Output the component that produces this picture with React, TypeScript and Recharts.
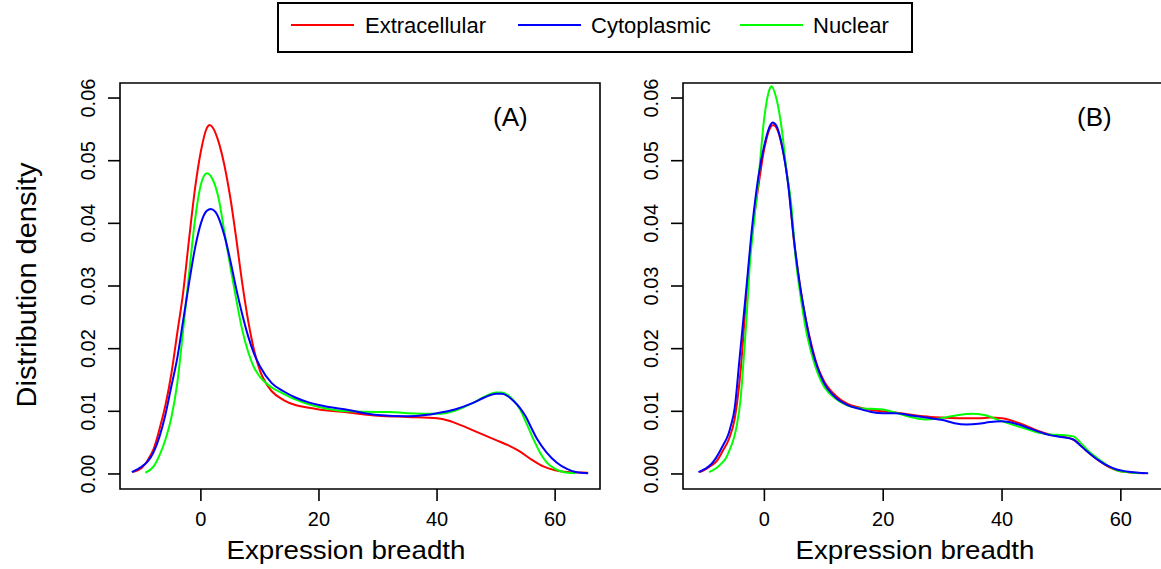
import { LineChart, Line, XAxis, YAxis, ReferenceArea } from "recharts";

const FONT = '"Liberation Sans", Arial, Helvetica, sans-serif';

// x ticks / y ticks shared by both panels
const X_TICKS = [0, 20, 40, 60];
const Y_TICKS = [0, 0.01, 0.02, 0.03, 0.04, 0.05, 0.06];
const X_DOMAIN: [number, number] = [-13.7, 67.6];
const Y_DOMAIN: [number, number] = [-0.0024, 0.0624];

const SERIES = [
  { key: "extracellular", name: "Extracellular", color: "#FF0000" },
  { key: "nuclear", name: "Nuclear", color: "#00FF00" },
  { key: "cytoplasmic", name: "Cytoplasmic", color: "#0000FF" },
];
const LEGEND_ORDER = ["extracellular", "cytoplasmic", "nuclear"];

// panel (A): [expression breadth, density]
const extracellularA: [number, number][] = [
  [-11.5, 0.0003], [-10, 0.001], [-9, 0.0022], [-8, 0.004], [-7, 0.0072],
  [-6, 0.011], [-5, 0.016], [-4, 0.0225], [-3, 0.029], [-2, 0.0375],
  [-1, 0.0455], [0, 0.0515], [1, 0.0552], [1.5, 0.0557], [2, 0.0553],
  [3, 0.053], [4, 0.0492], [5, 0.044], [6, 0.0375], [7, 0.0305],
  [8, 0.0245], [9, 0.0198], [10, 0.0165], [11, 0.0145], [12, 0.0132],
  [14, 0.0118], [16, 0.011], [18, 0.0106], [20, 0.0103], [25, 0.0098],
  [30, 0.0093], [35, 0.0091], [40, 0.0089], [42, 0.0085], [44, 0.0078],
  [46, 0.007], [48, 0.0062], [50, 0.0054], [52, 0.0046], [54, 0.0036],
  [56, 0.0023], [58, 0.0012], [60, 0.0006], [62, 0.0003], [65.5, 0.0002],
];
const cytoplasmicA: [number, number][] = [
  [-11.7, 0.0003], [-10, 0.0012], [-9, 0.002], [-8, 0.0035], [-7, 0.006],
  [-6, 0.0095], [-5, 0.014], [-4, 0.0185], [-3, 0.0245], [-2, 0.0305],
  [-1, 0.036], [0, 0.04], [1, 0.042], [1.7, 0.0423], [2.5, 0.0418],
  [4, 0.038], [5, 0.034], [6, 0.0295], [7, 0.0255], [8, 0.022],
  [9, 0.0192], [10, 0.0172], [12, 0.0145], [14, 0.0132], [16, 0.0122],
  [18, 0.0115], [20, 0.011], [25, 0.0102], [30, 0.0094], [35, 0.0092],
  [38, 0.0094], [40, 0.0097], [43, 0.0103], [46, 0.0113], [48, 0.0122],
  [50, 0.0128], [51, 0.0128], [52, 0.0124], [53, 0.0116], [54, 0.0106],
  [55, 0.0092], [56, 0.0073], [57, 0.0055], [58.5, 0.0035], [60.3, 0.0018],
  [62, 0.0008], [63.5, 0.0003], [65.6, 0.0001],
];
const nuclearA: [number, number][] = [
  [-9.4, 0.0002], [-8, 0.0012], [-7, 0.003], [-6, 0.0055], [-5, 0.009],
  [-4, 0.0145], [-3, 0.023], [-2, 0.032], [-1, 0.0405], [0, 0.0462],
  [1, 0.048], [2, 0.047], [3, 0.044], [4, 0.0385], [5, 0.033],
  [6, 0.0278], [7, 0.023], [8, 0.0195], [9, 0.017], [10, 0.0155],
  [12, 0.0138], [14, 0.0128], [16, 0.0119], [18, 0.0112], [20, 0.0107],
  [25, 0.01], [30, 0.0099], [32, 0.0099], [35, 0.0097], [40, 0.0096],
  [43, 0.0101], [46, 0.0113], [48, 0.0123], [50, 0.013], [51, 0.013],
  [52, 0.0126], [53, 0.0117], [54, 0.0104], [55, 0.0084], [56.3, 0.0056],
  [57.5, 0.0033], [58.6, 0.0018], [60, 0.0008], [61.4, 0.0003], [63.4, 0.0001],
];

// panel (B)
const extracellularB: [number, number][] = [
  [-10.9, 0.0003], [-10, 0.0007], [-9, 0.0013], [-8, 0.0021], [-7, 0.0037],
  [-6, 0.0055], [-5, 0.0088], [-4, 0.0165], [-3, 0.029], [-2, 0.039],
  [-1, 0.046], [0, 0.052], [1, 0.0553], [1.5, 0.0557], [2, 0.0553],
  [3, 0.0522], [4, 0.0465], [5, 0.037], [6, 0.03], [7, 0.0245],
  [8, 0.0203], [9, 0.017], [10, 0.0149], [12, 0.0125], [14, 0.0112],
  [16, 0.0106], [18, 0.0102], [20, 0.01], [22, 0.0098], [25, 0.0094],
  [28, 0.0091], [30, 0.009], [33, 0.0089], [36, 0.0089], [38, 0.009],
  [40, 0.0089], [42, 0.0084], [44, 0.0077], [46, 0.0069], [48, 0.0063],
  [50, 0.006], [52, 0.0055], [53, 0.0048], [54.2, 0.0037], [56.2, 0.0022],
  [58, 0.0011], [59.3, 0.0006], [61, 0.0003], [64, 0.0001],
];
const cytoplasmicB: [number, number][] = [
  [-11.1, 0.0003], [-10, 0.0008], [-9, 0.0015], [-8.4, 0.0022], [-7, 0.0045],
  [-6, 0.0065], [-5.7, 0.0075], [-5, 0.0105], [-4.2, 0.0182], [-3, 0.03],
  [-2, 0.04], [-1, 0.0475], [0, 0.0525], [1, 0.0557], [1.4, 0.0561],
  [2, 0.0556], [3, 0.0522], [4, 0.0462], [5, 0.0372], [6, 0.03],
  [7, 0.0245], [8, 0.02], [9, 0.0168], [10, 0.0146], [12, 0.0122],
  [14, 0.011], [16, 0.0104], [18, 0.0099], [20, 0.0097], [22, 0.0097],
  [25, 0.0093], [28, 0.0089], [30, 0.0086], [32, 0.0081], [34, 0.0079],
  [36, 0.008], [38, 0.0083], [40, 0.0084], [42, 0.0081], [44, 0.0075],
  [46, 0.0068], [48, 0.0062], [50, 0.0059], [52, 0.0055], [53, 0.0047],
  [54.2, 0.0037], [56.2, 0.0022], [58, 0.0012], [59.3, 0.0007], [61, 0.0004],
  [64.6, 0.0001],
];
const nuclearB: [number, number][] = [
  [-9.3, 0.0003], [-8, 0.001], [-7, 0.0019], [-6.7, 0.0022], [-6, 0.0035],
  [-5, 0.0062], [-4.7, 0.0075], [-4, 0.012], [-3.5, 0.0182], [-3, 0.025],
  [-2.4, 0.0341], [-2, 0.038], [-1, 0.047], [0, 0.057], [1, 0.0617],
  [1.2, 0.0619], [2, 0.06], [3, 0.0545], [3.7, 0.0485], [4.5, 0.0432],
  [5.3, 0.0341], [6, 0.029], [7, 0.023], [8, 0.019], [9, 0.016],
  [10, 0.014], [12, 0.012], [14, 0.0109], [16, 0.0105], [18, 0.0104],
  [20, 0.0103], [22, 0.0098], [25, 0.009], [27, 0.0087], [29, 0.0088],
  [32, 0.0093], [35, 0.0096], [37, 0.0094], [40, 0.0084], [42, 0.0078],
  [44, 0.0072], [46, 0.0066], [48, 0.0063], [50, 0.0062], [52, 0.006],
  [53, 0.0052], [54.5, 0.0037], [56.5, 0.0022], [58, 0.0012], [59.3, 0.0006],
  [61, 0.0003], [63.2, 0.0001],
];

const PANEL_A: Record<string, [number, number][]> = {
  extracellular: extracellularA,
  cytoplasmic: cytoplasmicA,
  nuclear: nuclearA,
};
const PANEL_B: Record<string, [number, number][]> = {
  extracellular: extracellularB,
  cytoplasmic: cytoplasmicB,
  nuclear: nuclearB,
};

const toPoints = (pairs: [number, number][]) =>
  pairs.map(([x, y]) => ({ x, y }));

const XTick = (props: any) => {
  const { x, y, payload } = props;
  return (
    <text
      x={x}
      y={y + 14.5}
      textAnchor="middle"
      fontSize={20}
      fontFamily={FONT}
      fill="#000"
    >
      {payload.value}
    </text>
  );
};

const YTick = (props: any) => {
  const { x, y, payload } = props;
  return (
    <text
      x={x}
      y={y}
      transform={`rotate(-90, ${x}, ${y})`}
      textAnchor="middle"
      fontSize={20}
      fontFamily={FONT}
      fill="#000"
    >
      {Number(payload.value).toFixed(2)}
    </text>
  );
};

function Panel({
  left,
  width,
  data,
}: {
  left: number;
  width: number;
  data: Record<string, [number, number][]>;
}) {
  return (
    <div style={{ position: "absolute", left, top: 0 }}>
      <LineChart
        width={width}
        height={569}
        margin={{ top: 83, right: 20, left: 0, bottom: 0 }}
      >
        <XAxis
          type="number"
          dataKey="x"
          domain={X_DOMAIN}
          ticks={X_TICKS}
          interval={0}
          allowDataOverflow
          axisLine={false}
          tickSize={12}
          tickMargin={10}
          tickLine={{ stroke: "#000", strokeWidth: 1.6 }}
          tick={XTick}
          height={80}
        />
        <YAxis
          type="number"
          domain={Y_DOMAIN}
          ticks={Y_TICKS}
          interval={0}
          allowDataOverflow
          axisLine={false}
          tickSize={12}
          tickMargin={13}
          tickLine={{ stroke: "#000", strokeWidth: 1.6 }}
          tick={YTick}
          width={120}
        />
        <ReferenceArea
          x1={X_DOMAIN[0]}
          x2={X_DOMAIN[1]}
          y1={Y_DOMAIN[0]}
          y2={Y_DOMAIN[1]}
          fill="none"
          stroke="#000"
          strokeWidth={1.6}
          ifOverflow="visible"
        />
        {SERIES.map((s) => (
          <Line
            key={s.key}
            data={toPoints(data[s.key])}
            dataKey="y"
            name={s.name}
            type="monotone"
            stroke={s.color}
            strokeWidth={2}
            dot={false}
            activeDot={false}
            isAnimationActive={false}
          />
        ))}
      </LineChart>
    </div>
  );
}

const LEGEND_LINES = [291, 518, 740];
const LEGEND_TEXT = [365, 591, 813];

export default function App() {
  return (
    <div
      style={{
        position: "absolute",
        left: 0,
        top: 0,
        width: 1161,
        height: 569,
        overflow: "hidden",
        background: "#fff",
        fontFamily: FONT,
      }}
    >
      <Panel left={0} width={620} data={PANEL_A} />
      <Panel left={563} width={623} data={PANEL_B} />
      <svg
        width={1161}
        height={569}
        style={{ position: "absolute", left: 0, top: 0, pointerEvents: "none" }}
        fontFamily={FONT}
      >
        <rect x={278} y={3} width={634} height={49} fill="#fff" stroke="#000" strokeWidth={2} />
        {LEGEND_ORDER.map((k, i) => {
          const s = SERIES.find((d) => d.key === k)!;
          return (
            <g key={k}>
              <line
                x1={LEGEND_LINES[i]}
                x2={LEGEND_LINES[i] + 63}
                y1={25}
                y2={25}
                stroke={s.color}
                strokeWidth={2}
              />
              <text x={LEGEND_TEXT[i]} y={33} fontSize={22} fill="#000">
                {s.name}
              </text>
            </g>
          );
        })}
        <text x={493} y={126} fontSize={26} fill="#000">(A)</text>
        <text x={1077} y={126} fontSize={26} fill="#000">(B)</text>
        <text
          x={346}
          y={559}
          fontSize={25}
          textAnchor="middle"
          textLength={239}
          lengthAdjust="spacingAndGlyphs"
          fill="#000"
        >
          Expression breadth
        </text>
        <text
          x={915}
          y={559}
          fontSize={25}
          textAnchor="middle"
          textLength={239}
          lengthAdjust="spacingAndGlyphs"
          fill="#000"
        >
          Expression breadth
        </text>
        <text
          x={36}
          y={285}
          transform="rotate(-90, 36, 285)"
          fontSize={28}
          textAnchor="middle"
          textLength={245}
          lengthAdjust="spacingAndGlyphs"
          fill="#000"
        >
          Distribution density
        </text>
      </svg>
    </div>
  );
}
